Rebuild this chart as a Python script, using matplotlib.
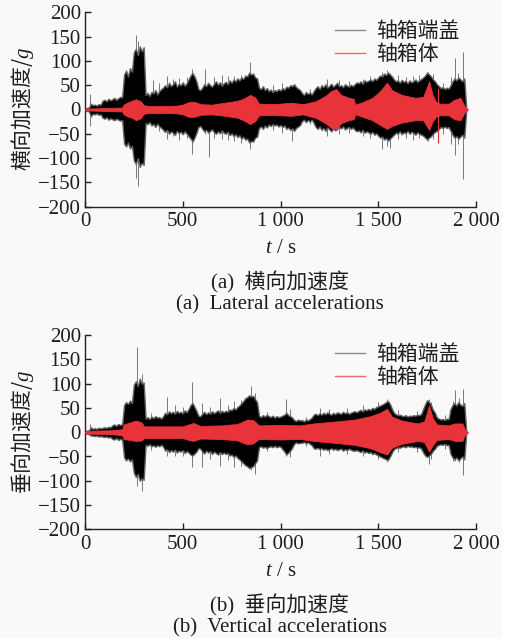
import matplotlib
matplotlib.use("Agg")
import matplotlib.pyplot as plt
from matplotlib.lines import Line2D
from matplotlib.patches import Rectangle

plt.rcParams["font.family"] = ["Liberation Serif", "Noto Sans CJK SC"]
plt.rcParams["mathtext.fontset"] = "custom"
plt.rcParams["mathtext.it"] = "Liberation Serif:italic"
plt.rcParams["mathtext.rm"] = "Liberation Serif"
plt.rcParams["axes.unicode_minus"] = True

# ---- axle-box cover (black): peak envelope every 10 s, 0 ... 1950 s (g) ----
cover_time_s = list(range(0, 1951, 10))

lat_cover_max = [2, 3, 4, 12, 9, 10, 8, 11, 10,
                 18, 20, 17, 22, 19, 21, 24, 20, 23, 26, 25,
                 72, 80, 68, 85, 78,
                 118, 125, 112, 130, 120, 128,
                 30, 34, 28, 36, 33, 40, 31, 38, 42, 45,
                 50, 46, 55, 48, 52, 58, 47, 53, 50, 56, 49, 54,
                 62, 70, 75, 68, 58, 42,
                 40, 45, 52, 48, 55, 50, 47, 53, 58, 51, 56, 49, 54,
                 57, 52, 60, 55, 62, 58, 64, 60, 66, 63,
                 70, 68, 76, 72, 74, 66, 64,
                 45, 42, 48, 40, 44, 38, 41, 36, 40, 38, 42, 39,
                 44, 41, 47, 45, 50, 48, 52, 46, 43, 40,
                 34, 30, 36, 32, 35, 31, 38,
                 44, 48, 42, 50, 46, 52, 45, 49, 53, 47, 51, 55, 48, 50, 46, 52, 49, 47, 51, 48,
                 52, 56, 54, 58, 53, 60, 57, 59, 62, 58, 64, 61,
                 66, 70, 68, 74, 71, 76, 72, 68,
                 62, 58, 60, 55, 61, 57, 59, 54, 60, 56, 58, 62, 57, 60, 63,
                 66, 70, 76, 72, 68, 62, 58,
                 52, 48, 44, 46, 42, 45, 43,
                 50, 58, 64, 60, 66, 62, 58, 64,
                 3]
lat_cover_min = [-2, -3, -4, -14, -9, -10, -8, -11, -10,
                 -17, -19, -16, -21, -18, -20, -22, -19, -21, -23, -22,
                 -70, -76, -68, -80, -75,
                 -105, -112, -100, -118, -110, -114,
                 -28, -30, -26, -33, -30, -36, -29, -35, -38, -42,
                 -46, -42, -50, -45, -48, -52, -44, -49, -46, -51, -45, -50,
                 -55, -60, -66, -58, -48, -36,
                 -34, -40, -45, -42, -48, -44, -41, -47, -50, -45, -49, -43, -48,
                 -50, -46, -53, -49, -55, -51, -57, -53, -60, -56,
                 -62, -60, -68, -65, -66, -58, -56,
                 -38, -35, -40, -33, -37, -31, -34, -30, -33, -31, -35, -32,
                 -36, -33, -40, -37, -42, -39, -44, -38, -35, -32,
                 -24, -21, -26, -22, -25, -21, -28,
                 -36, -40, -35, -42, -38, -44, -37, -41, -45, -39, -43, -40, -36, -39, -35, -41, -38, -36, -40, -37,
                 -42, -45, -43, -47, -42, -48, -45, -47, -50, -46, -52, -49,
                 -54, -58, -56, -62, -59, -64, -60, -56,
                 -52, -48, -50, -45, -51, -47, -49, -44, -50, -46, -48, -52, -47, -50, -52,
                 -54, -58, -62, -58, -55, -50, -46,
                 -44, -40, -36, -38, -35, -38, -36,
                 -44, -52, -58, -55, -60, -56, -52, -58,
                 -3]

ver_cover_max = [2, 3, 4, 10, 7, 8, 7, 9, 8,
                 9, 10, 9, 11, 10, 14, 16, 13, 17, 15, 16,
                 56, 62, 58, 65, 60,
                 98, 105, 95, 110, 100, 102,
                 28, 31, 27, 32, 29, 33, 30, 31, 28, 33,
                 40, 37, 43, 39, 42, 38, 44, 40, 42, 39, 45, 41,
                 48, 56, 60, 52, 44, 34,
                 33, 38, 42, 37, 41, 38, 43, 39, 42, 45, 40, 44, 41,
                 44, 42, 47, 45, 50, 47, 52, 55, 60, 64,
                 70, 72, 76, 73, 75, 68, 62,
                 34, 31, 35, 32, 36, 33, 31, 34, 30, 33, 31, 32,
                 34, 36, 40, 35, 33, 30, 25, 23, 26, 24,
                 25, 22, 26, 24, 27, 30, 36,
                 38, 35, 39, 36, 40, 37, 41, 38, 36, 40, 37, 41, 39, 38, 42, 39, 41, 38, 40, 42,
                 43, 41, 44, 46, 43, 47, 45, 48, 46, 50, 48, 52,
                 53, 55, 57, 59, 62, 64, 58, 48,
                 40, 37, 35, 36, 34, 33, 35, 32, 34, 33, 35, 34, 36, 35, 38,
                 48, 58, 66, 62, 56, 46, 40,
                 30, 28, 26, 27, 25, 28, 27,
                 48, 56, 60, 55, 62, 57, 54, 60,
                 3]
ver_cover_min = [-2, -3, -4, -7, -7, -8, -7, -9, -8,
                 -9, -10, -9, -11, -10, -14, -15, -12, -16, -14, -15,
                 -52, -58, -54, -60, -56,
                 -84, -92, -86, -100, -95, -98,
                 -26, -28, -25, -29, -27, -30, -27, -29, -26, -30,
                 -38, -35, -41, -37, -40, -36, -42, -38, -40, -37, -43, -39,
                 -42, -46, -48, -44, -40, -33,
                 -34, -40, -44, -38, -42, -39, -45, -40, -43, -46, -41, -45, -42,
                 -45, -43, -48, -46, -51, -48, -53, -56, -60, -64,
                 -68, -70, -74, -72, -70, -64, -58,
                 -31, -29, -32, -30, -33, -30, -29, -31, -28, -31, -29, -30,
                 -35, -40, -46, -42, -38, -32, -24, -21, -23, -22,
                 -22, -20, -23, -21, -24, -27, -33,
                 -34, -32, -35, -33, -36, -34, -37, -35, -33, -36, -34, -37, -35, -34, -38, -35, -37, -34, -36, -38,
                 -38, -37, -39, -41, -38, -42, -40, -43, -41, -45, -43, -46,
                 -48, -50, -52, -54, -56, -57, -50, -42,
                 -35, -33, -31, -32, -30, -29, -31, -28, -30, -29, -31, -30, -32, -31, -34,
                 -42, -48, -51, -48, -44, -38, -34,
                 -28, -26, -25, -26, -24, -27, -26,
                 -45, -52, -56, -52, -58, -54, -50, -56,
                 -3]

# isolated peaks of the cover signal: time (s), max, min (g)
lat_peak_t = [27, 262, 272, 350, 380, 420, 450, 480, 520, 546, 614, 634, 660,
              700, 730, 760, 800, 844, 960, 1010, 1060, 1150, 1240, 1300, 1350,
              1420, 1460, 1520, 1545, 1560, 1600, 1640, 1680, 1710, 1755, 1780,
              1830, 1870, 1895, 1910, 1933]
lat_peak_max = [32, 154, 140, 61, 55, 68, 62, 65, 66, 83, 83, 50, 66,
                70, 68, 68, 72, 97, 50, 55, 50, 42, 62, 60, 58,
                62, 68, 78, 81, 76, 70, 66, 68, 70, 78, 74,
                55, 66, 105, 75, 118]
lat_peak_min = [-34, -140, -157, -30, -45, -60, -55, -62, -58, -91, -50, -98, -58,
                -60, -62, -65, -68, -81, -42, -48, -64, -30, -55, -50, -48,
                -55, -58, -82, -75, -80, -60, -58, -62, -58, -65, -60,
                -50, -70, -94, -70, -142]

ver_peak_t = [27, 266, 290, 340, 420, 460, 500, 546, 600, 640, 690, 730, 760,
              800, 850, 870, 930, 1030, 1050, 1130, 1200, 1250, 1340, 1420,
              1500, 1545, 1600, 1700, 1760, 1770, 1840, 1880, 1895, 1915, 1933]
ver_peak_max = [16, 176, 120, 40, 72, 55, 52, 103, 60, 52, 70, 56, 65,
                66, 95, 80, 42, 68, 48, 32, 50, 48, 50, 55,
                62, 68, 45, 44, 68, 62, 36, 64, 86, 70, 88]
ver_peak_min = [-6, -110, -120, -36, -50, -50, -48, -72, -72, -55, -70, -58, -72,
                -70, -78, -85, -38, -50, -52, -28, -50, -45, -44, -50,
                -56, -62, -40, -40, -65, -55, -34, -60, -60, -62, -89]

# ---- axle-box body (red): envelope at breakpoints (s, g) ----
lat_body_t = [0, 25, 190, 198, 215, 240, 260, 285, 300, 330, 400, 470, 500, 530,
              560, 590, 650, 715, 780, 810, 845, 870, 890, 950, 1000, 1055, 1115,
              1180, 1230, 1260, 1285, 1310, 1350, 1375, 1382, 1420, 1470, 1510,
              1545, 1570, 1620, 1690, 1730, 1760, 1778, 1795, 1815, 1860, 1890,
              1920, 1945, 1958]
lat_body_max = [1, 2, 4, 10, 14, 18, 21, 17, 9, 7, 7, 8, 10, 15,
                16, 11, 10, 14, 18, 22, 30, 25, 12, 11, 12, 14, 11,
                17, 28, 38, 42, 30, 24, 22, 10, 15, 24, 38,
                55, 40, 30, 24, 26, 58, 30, 16, 12, 12, 20,
                24, 4, 1]
lat_body_min = [-1, -2, -4, -10, -14, -17, -22, -18, -9, -7, -7, -8, -10, -15,
                -15, -11, -10, -13, -17, -22, -30, -24, -12, -11, -12, -13, -10,
                -17, -28, -38, -40, -28, -22, -20, -10, -15, -22, -32,
                -40, -34, -27, -22, -22, -42, -25, -15, -12, -12, -20,
                -22, -4, -1]
lat_body_spike = (1806, 45, -68)

ver_body_t = [0, 25, 135, 190, 198, 230, 260, 290, 302, 400, 500, 530, 555, 590,
              700, 780, 830, 860, 890, 1000, 1100, 1170, 1280, 1380, 1460, 1510,
              1545, 1570, 1620, 1700, 1735, 1760, 1780, 1800, 1860, 1890, 1930,
              1945, 1958]
ver_body_max = [1, 3, 4, 6, 16, 20, 24, 20, 12, 12, 12, 16, 19, 13,
                14, 17, 26, 25, 14, 15, 14, 18, 22, 26, 33, 40,
                48, 32, 24, 18, 22, 55, 28, 16, 14, 18, 18,
                4, 1]
ver_body_min = [-1, -3, -4, -6, -14, -16, -18, -17, -12, -12, -12, -16, -18, -13,
                -14, -17, -25, -23, -14, -15, -14, -18, -22, -26, -33, -41,
                -46, -32, -24, -18, -20, -40, -26, -16, -14, -18, -18,
                -4, -1]

x_ticks = [0, 500, 1000, 1500, 2000]
x_tick_labels = ["0", "500", "1 000", "1 500", "2 000"]
y_ticks = [-200, -150, -100, -50, 0, 50, 100, 150, 200]

labels_series = ["轴箱端盖", "轴箱体"]
y_titles = ["横向加速度/$g$", "垂向加速度/$g$"]
captions_cn = ["(a)  横向加速度", "(b)  垂向加速度"]
captions_en = ["(a)  Lateral accelerations", "(b)  Vertical accelerations"]

W, H = 515, 642
BG = "#f9f9f9"
RED = "#e8333a"
TXT = "#1e1e1e"
CJK = ["Noto Sans CJK SC", "DejaVu Sans"]
MIXED = ["Liberation Serif", "Noto Sans CJK SC"]

fig = plt.figure(figsize=(W / 100, H / 100), dpi=100, facecolor=BG)
fig.patches.append(Rectangle((502 / W, 0), 13 / W, 1, transform=fig.transFigure,
                             facecolor="white", edgecolor="none", zorder=-5))
fig.patches.append(Rectangle((0, 0), 1, 4 / H, transform=fig.transFigure,
                             facecolor="white", edgecolor="none", zorder=-5))

panels = [
    dict(top=12.3, cmax=lat_cover_max, cmin=lat_cover_min,
         bt=lat_body_t, bmax=lat_body_max, bmin=lat_body_min,
         pt=lat_peak_t, pmax=lat_peak_max, pmin=lat_peak_min, spike=lat_body_spike),
    dict(top=335.0, cmax=ver_cover_max, cmin=ver_cover_min,
         bt=ver_body_t, bmax=ver_body_max, bmin=ver_body_min,
         pt=ver_peak_t, pmax=ver_peak_max, pmin=ver_peak_min, spike=None),
]

x0_px, x1_px = 85, 476
h_px = 194.4
for i, p in enumerate(panels):
    top = p["top"]
    ax = fig.add_axes([x0_px / W, 1 - (top + h_px) / H, (x1_px - x0_px) / W, h_px / H])
    ax.set_facecolor("none")

    # axle-box cover
    ax.fill_between(cover_time_s, p["cmin"], p["cmax"], facecolor="black",
                    edgecolor="#646464", linewidth=1.0, zorder=2)
    ax.vlines(p["pt"], p["pmin"], p["pmax"], colors="#777777", linewidth=0.7, zorder=1.9)
    # axle-box body
    ax.fill_between(p["bt"], p["bmin"], p["bmax"], facecolor=RED,
                    edgecolor=RED, linewidth=0.6, zorder=3)
    if p["spike"] is not None:
        st, smax, smin = p["spike"]
        ax.vlines([st], [smin], [smax], colors=RED, linewidth=0.9, zorder=3)

    ax.set_xlim(0, 2000)
    ax.set_ylim(-200, 200)
    ax.set_xticks(x_ticks)
    ax.set_xticklabels(x_tick_labels)
    ax.set_yticks(y_ticks)
    for s in ("top", "right"):
        ax.spines[s].set_visible(False)
    for s in ("left", "bottom"):
        ax.spines[s].set_linewidth(1.0)
        ax.spines[s].set_color("#222222")
    ax.tick_params(direction="in", length=4, width=1.0, colors="#222222",
                   labelsize=15, labelcolor=TXT)
    ax.tick_params(axis="x", pad=4)
    ax.tick_params(axis="y", pad=3)

    handles = [Line2D([], [], color="#8a8a8a", lw=1.0),
               Line2D([], [], color="#f06a6a", lw=1.0)]
    leg = ax.legend(handles, labels_series, loc="upper left",
                    bbox_to_anchor=((335 - x0_px) / (x1_px - x0_px), (h_px - 8) / h_px),
                    frameon=False, borderpad=0, borderaxespad=0,
                    handlelength=1.45, handletextpad=0.5, labelspacing=0.05,
                    prop=dict(family=CJK, size=15))
    for t in leg.get_texts():
        t.set_color(TXT)

    # axis titles and captions
    cx = (x0_px + x1_px) / 2 / W
    fig.text(cx, 1 - (top + 236) / H, "$t$ / s", ha="center", va="center",
             fontsize=15, color=TXT, family="Liberation Serif")
    fig.text(22 / W, 1 - (top + 97) / H, y_titles[i], rotation=90, ha="center",
             va="center", fontsize=15, color=TXT, family="Noto Sans CJK SC")
    fig.text(280 / W, 1 - (top + 270) / H, captions_cn[i], ha="center", va="center",
             fontsize=15, color=TXT, family=MIXED)
    fig.text(280 / W, 1 - (top + 293) / H, captions_en[i], ha="center", va="center",
             fontsize=15, color=TXT, family=MIXED)

fig.savefig("out.png", dpi=100, facecolor=BG)
